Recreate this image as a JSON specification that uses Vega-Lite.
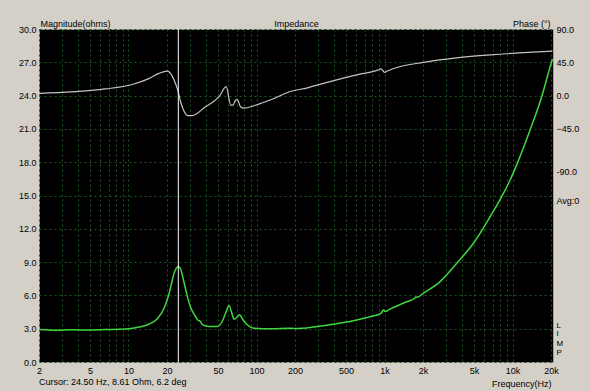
{
  "$schema": "https://vega.github.io/schema/vega-lite/v6.json",
  "autosize": {"type": "none"},
  "padding": {"left": 39, "top": 29, "right": 37, "bottom": 29},
  "width": 514,
  "height": 333,
  "background": "#d4d0c8",
  "title": {
    "text": "Cursor: 24.50 Hz, 8.61 Ohm, 6.2 deg",
    "orient": "bottom",
    "anchor": "start",
    "frame": "group",
    "offset": 0,
    "dy": -10,
    "font": "Liberation Sans",
    "fontSize": 9,
    "fontWeight": "normal",
    "color": "#000000"
  },
  "config": {
    "view": {"fill": "#000000", "stroke": "#a0a0a0", "strokeWidth": 1},
    "axis": {
      "labelFont": "Liberation Sans",
      "labelFontSize": 9,
      "labelColor": "#000000",
      "titleFont": "Liberation Sans",
      "titleFontSize": 9,
      "titleFontWeight": "normal",
      "titleColor": "#000000",
      "domain": false,
      "ticks": false,
      "tickSize": 0,
      "gridColor": "#1f551f",
      "gridDash": [2, 3],
      "gridWidth": 1,
      "gridOpacity": 1
    }
  },
  "datasets": {
    "magnitude": [
      {"freq": 2, "mag": 2.93}, {"freq": 2.7, "mag": 2.86}, {"freq": 3.64, "mag": 2.9},
      {"freq": 5, "mag": 2.88}, {"freq": 6.6, "mag": 2.93}, {"freq": 8.5, "mag": 2.95},
      {"freq": 10.1, "mag": 3.0}, {"freq": 12.1, "mag": 3.15}, {"freq": 14.4, "mag": 3.4},
      {"freq": 16.8, "mag": 3.9}, {"freq": 18.9, "mag": 4.8}, {"freq": 20.8, "mag": 6.2},
      {"freq": 22.7, "mag": 8.0}, {"freq": 24.5, "mag": 8.61}, {"freq": 25.5, "mag": 8.4},
      {"freq": 27.0, "mag": 7.3}, {"freq": 28.7, "mag": 6.0}, {"freq": 30.5, "mag": 4.95},
      {"freq": 33.4, "mag": 4.1}, {"freq": 35, "mag": 3.75}, {"freq": 36, "mag": 3.72},
      {"freq": 37.6, "mag": 3.4}, {"freq": 42.5, "mag": 3.2}, {"freq": 49.3, "mag": 3.2},
      {"freq": 54, "mag": 3.65}, {"freq": 58, "mag": 4.55}, {"freq": 61, "mag": 5.1},
      {"freq": 63.6, "mag": 4.55}, {"freq": 66.7, "mag": 3.85}, {"freq": 70.7, "mag": 4.05},
      {"freq": 73.7, "mag": 4.25}, {"freq": 78.3, "mag": 3.8}, {"freq": 84.5, "mag": 3.35},
      {"freq": 95.3, "mag": 3.05}, {"freq": 132, "mag": 3.0}, {"freq": 183, "mag": 3.03},
      {"freq": 214, "mag": 3.02}, {"freq": 333, "mag": 3.27}, {"freq": 607, "mag": 3.78},
      {"freq": 718, "mag": 3.98}, {"freq": 740, "mag": 4.02}, {"freq": 818, "mag": 4.14},
      {"freq": 940, "mag": 4.4}, {"freq": 980, "mag": 4.68}, {"freq": 1010, "mag": 4.55},
      {"freq": 1104, "mag": 4.77}, {"freq": 1490, "mag": 5.43}, {"freq": 1700, "mag": 5.7},
      {"freq": 1760, "mag": 5.86}, {"freq": 1800, "mag": 5.84}, {"freq": 2013, "mag": 6.2},
      {"freq": 2717, "mag": 7.24}, {"freq": 3667, "mag": 8.9}, {"freq": 4950, "mag": 10.7},
      {"freq": 6680, "mag": 13.1}, {"freq": 8490, "mag": 15.2}, {"freq": 9570, "mag": 16.4},
      {"freq": 11250, "mag": 18.3}, {"freq": 13700, "mag": 20.9}, {"freq": 16900, "mag": 23.9},
      {"freq": 20000, "mag": 26.9}, {"freq": 20500, "mag": 27.3}
    ],
    "phase": [
      {"freq": 2, "deg": 3}, {"freq": 3.64, "deg": 5}, {"freq": 6.6, "deg": 9},
      {"freq": 10.7, "deg": 15}, {"freq": 14.4, "deg": 23}, {"freq": 17.3, "deg": 30},
      {"freq": 20, "deg": 33}, {"freq": 21.3, "deg": 30}, {"freq": 22.7, "deg": 21},
      {"freq": 24.2, "deg": 8}, {"freq": 25.5, "deg": -8}, {"freq": 27, "deg": -20},
      {"freq": 29.2, "deg": -27}, {"freq": 31.3, "deg": -27}, {"freq": 40, "deg": -15},
      {"freq": 51, "deg": -1.5}, {"freq": 58, "deg": 12}, {"freq": 62.9, "deg": -13},
      {"freq": 65.6, "deg": -13}, {"freq": 68, "deg": -7}, {"freq": 70.7, "deg": -5},
      {"freq": 75, "deg": -15}, {"freq": 79.8, "deg": -17}, {"freq": 98, "deg": -13},
      {"freq": 132, "deg": -5}, {"freq": 183, "deg": 5.5}, {"freq": 250, "deg": 10.5},
      {"freq": 333, "deg": 16.5}, {"freq": 607, "deg": 28}, {"freq": 870, "deg": 34},
      {"freq": 940, "deg": 36}, {"freq": 1000, "deg": 31.5}, {"freq": 1060, "deg": 33.5},
      {"freq": 1150, "deg": 36}, {"freq": 2013, "deg": 45}, {"freq": 3667, "deg": 51},
      {"freq": 6680, "deg": 55}, {"freq": 12200, "deg": 58}, {"freq": 20500, "deg": 60}
    ],
    "cursor": [{"freq": 24.5}]
  },
  "layer": [
    {
      "data": {"name": "magnitude"},
      "mark": {"type": "line", "color": "#3fd63f", "strokeWidth": 1.5, "clip": true, "interpolate": "monotone"},
      "encoding": {
        "x": {
          "field": "freq", "type": "quantitative",
          "scale": {"type": "log", "domain": [2, 20700], "nice": false},
          "axis": {
            "orient": "bottom",
            "values": [2,3,4,5,6,7,8,9,10,20,30,40,50,60,70,80,90,100,200,300,400,500,600,700,800,900,1000,2000,3000,4000,5000,6000,7000,8000,9000,10000,20000],
            "labelExpr": "indexof([2,5,10,20,50,100,200,500,1000,2000,5000,10000,20000], datum.value) >= 0 ? (datum.value >= 1000 ? (datum.value/1000) + 'k' : '' + datum.value) : ''",
            "labelOverlap": false,
            "labelFlush": false,
            "labelPadding": 4,
            "grid": true,
            "title": "Frequency(Hz)",
            "titleX": 512,
            "titleY": 21,
            "titleAlign": "right",
            "titleBaseline": "middle"
          }
        },
        "y": {
          "field": "mag", "type": "quantitative",
          "scale": {"domain": [0, 30], "nice": false, "zero": false},
          "axis": {
            "orient": "left",
            "values": [0,3,6,9,12,15,18,21,24,27,30],
            "format": ".1f",
            "labelPadding": 3,
            "labelOverlap": false,
            "grid": true,
            "title": "Magnitude(ohms)",
            "titleAngle": 0,
            "titleX": 1,
            "titleY": -6,
            "titleAlign": "left",
            "titleBaseline": "middle"
          }
        }
      }
    },
    {
      "data": {"name": "phase"},
      "mark": {"type": "line", "color": "#c4c4c4", "strokeWidth": 1.2, "clip": true, "interpolate": "monotone"},
      "encoding": {
        "x": {"field": "freq", "type": "quantitative", "axis": null},
        "y": {
          "field": "deg", "type": "quantitative",
          "scale": {"domain": [-360, 90], "nice": false, "zero": false},
          "axis": {
            "orient": "right",
            "values": [90, 45, 0, -45, -103, -142, -310, -322, -335, -347],
            "labelExpr": "datum.value == -103 ? '-90.0' : datum.value == -142 ? 'Avg:0' : datum.value == -310 ? 'L' : datum.value == -322 ? 'I' : datum.value == -335 ? 'M' : datum.value == -347 ? 'P' : format(datum.value, '.1f')",
            "labelFontSize": {"condition": {"test": "datum.value < -300", "value": 8}, "value": 9},
            "labelOverlap": false,
            "labelPadding": 3,
            "grid": false,
            "title": "Phase (°)",
            "titleAngle": 0,
            "titleX": -3,
            "titleY": -6,
            "titleAlign": "right",
            "titleBaseline": "middle"
          }
        }
      }
    },
    {
      "data": {"name": "cursor"},
      "mark": {"type": "rule", "color": "#ffffff", "strokeWidth": 1},
      "encoding": {
        "x": {
          "field": "freq", "type": "quantitative",
          "axis": {
            "orient": "top",
            "labels": false,
            "grid": false,
            "title": "Impedance",
            "titleX": 257,
            "titleY": -6,
            "titleAlign": "center",
            "titleBaseline": "middle"
          }
        }
      }
    }
  ],
  "resolve": {"scale": {"y": "independent"}, "axis": {"x": "independent"}}
}
